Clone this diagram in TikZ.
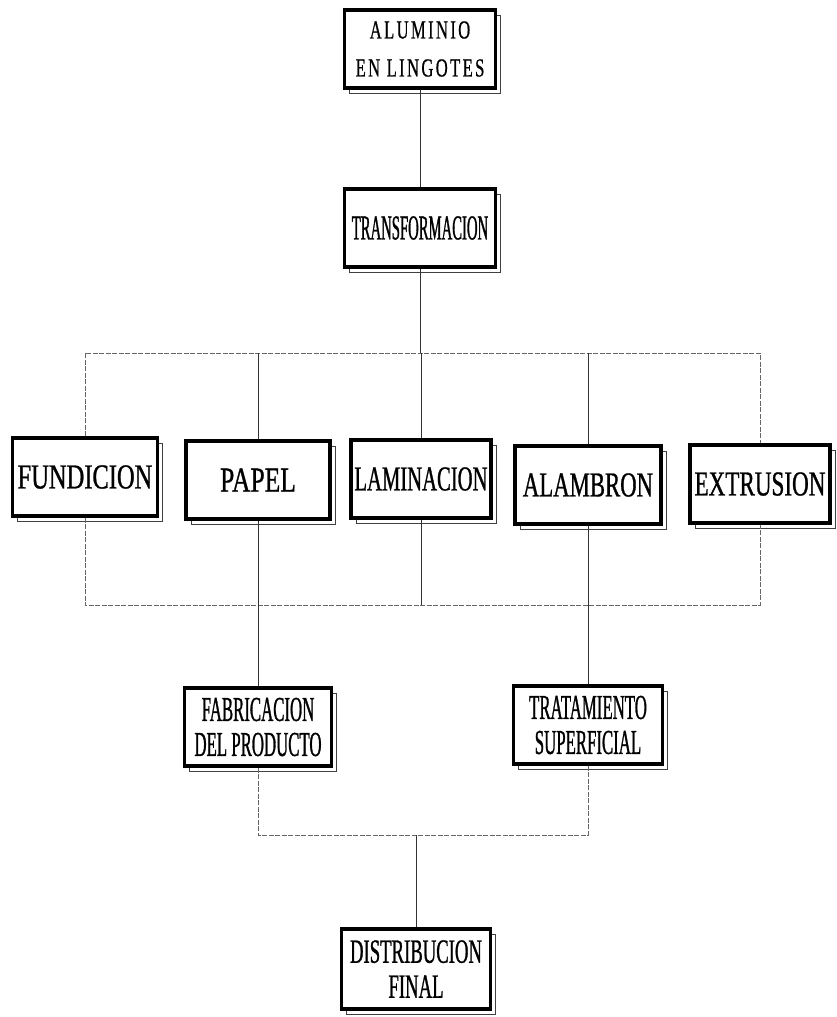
\documentclass[tikz,border=0pt]{standalone}
\usepackage{fontspec}
\setmainfont{Liberation Serif}
\newfontfamily\spacedfont[FakeStretch=0.64,LetterSpace=9,FakeBold=0.6]{Liberation Serif}
\usetikzlibrary{positioning,shadows}

% condensed serif: stretch, size
\newcommand\procfont[2]{\fontspec{Liberation Serif}[FakeStretch=#1,FakeBold=0.8]\fontsize{#2}{35}\selectfont}

\tikzset{
  proc/.style={draw, line width=3.2pt, fill=white, align=center, inner sep=2pt,
    minimum height=78pt, font=\procfont{0.7}{33},
    general shadow={draw=black!75, line width=0.7pt, fill=none,
      shadow xshift=5pt, shadow yshift=-5pt}},
  link/.style={draw=black!80, line width=0.7pt},
  bus/.style={draw=black!60, line width=0.7pt, dash pattern=on 5pt off 1.5pt}
}

\begin{document}
\begin{tikzpicture}[x=1pt,y=-1pt]
   \useasboundingbox (0,0) rectangle (836,1017);
   \node[proc, minimum width=151pt, font=\spacedfont\fontsize{26}{38}\selectfont] (alum) at (420,49) {ALUMINIO\\EN LINGOTES};
   \node[proc, minimum width=151pt, font=\procfont{0.42}{35}] (transf) at (420,228) {TRANSFORMACION};
   % row of processes
   \node[proc, minimum width=145pt, font=\procfont{0.70}{35}] (fund) at (85,477) {FUNDICION};
   \node[proc, minimum width=144pt, font=\procfont{0.73}{35}] (papel) at (258,480) {PAPEL};
   \node[proc, minimum width=140pt, font=\procfont{0.59}{35}] (lam) at (421,479) {LAMINACION};
   \node[proc, minimum width=146pt, font=\procfont{0.65}{35}] (alam) at (588,485) {ALAMBRON};
   \node[proc, minimum width=140pt, font=\procfont{0.66}{35}] (ext) at (760,484) {EXTRUSION};
   % second level
   \node[proc, minimum width=147pt, font=\procfont{0.48}{35}] (fab) at (papel |- 0,727) {FABRICACION\\DEL PRODUCTO};
   \node[proc, minimum width=149pt, font=\procfont{0.48}{35}] (trat) at (alam |- 0,725) {TRATAMIENTO\\SUPERFICIAL};
   \node[proc, minimum width=149pt, minimum height=80pt, font=\procfont{0.55}{34}] (dist) at (416,969) {DISTRIBUCION\\FINAL};

   \coordinate (busa) at (0,353);
   \coordinate (busb) at (0,605);
   \coordinate (busc) at (0,835);

   \draw[link] (alum) -- (transf);
   \draw[link] (transf) -- (transf |- busa);
   \draw[bus] (fund.north) -- (fund.north |- busa) -- (ext.north |- busa) -- (ext.north);
   \draw[link] (papel.north) -- (papel.north |- busa);
   \draw[link] (lam.north) -- (lam.north |- busa);
   \draw[link] (alam.north) -- (alam.north |- busa);

   \draw[bus] (fund.south) -- (fund.south |- busb) -- (ext.south |- busb) -- (ext.south);
   \draw[link] (lam.south) -- (lam.south |- busb);
   \draw[link] (papel) -- (fab);
   \draw[link] (alam) -- (trat);

   \draw[bus] (fab.south) -- (fab.south |- busc) -- (trat.south |- busc) -- (trat.south);
   \draw[link] (dist) -- (dist |- busc);
\end{tikzpicture}
\end{document}
